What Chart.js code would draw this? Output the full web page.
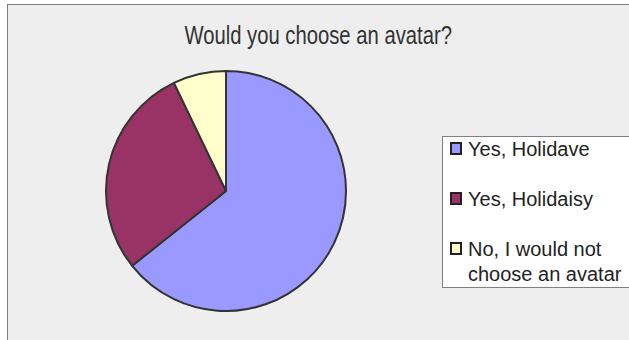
<!DOCTYPE html>
<html>
<head>
<meta charset="utf-8">
<script src="https://cdn.jsdelivr.net/npm/chart.js@4/dist/chart.umd.min.js"></script>
<style>
  html, body { margin: 0; padding: 0; background: #fff; }
  #wrap { position: relative; width: 629px; height: 340px; overflow: hidden; }
  #frame {
    position: absolute; left: 7px; top: 4px; width: 640px; height: 360px;
    background: #eeeeee; border: 1px solid #808080;
  }
  #title {
    position: absolute; left: 0; top: 23px; width: 637px; text-align: center;
    font-family: "Liberation Sans", Arial, sans-serif;
    font-size: 25px; line-height: 25px; color: #333;
  }
  /* condensed look for the heading */
  #title span { display: inline-block; transform: scaleX(0.81); transform-origin: center; }
  #chart { position: absolute; left: 0; top: 0; }
  #legend {
    position: absolute; left: 442px; top: 136px; width: 220px; height: 150px;
    background: #fff; border: 1px solid #808080;
    font-family: "Liberation Sans", Arial, sans-serif; font-size: 20px; color: #222;
  }
  .item { position: relative; padding-left: 25px; line-height: 25px; margin-bottom: 25px; }
  .swatch {
    position: absolute; left: 7px; top: 5px; width: 8px; height: 9px;
    border: 2px solid #222;
  }
</style>
</head>
<body>
<div id="wrap">
  <div id="frame"></div>
  <div id="title"><span>Would you choose an avatar?</span></div>
  <canvas id="chart" width="629" height="340"></canvas>
  <div id="legend"></div>
</div>
<script>
const labels = ['Yes, Holidave', 'Yes, Holidaisy', 'No, I would not\nchoose an avatar'];
const votes = [9, 4, 1];
const colors = ['#9999ff', '#993366', '#ffffcc'];

// legend on the right, one entry per slice
const legend = document.getElementById('legend');
labels.forEach(function(label, i) {
    const item = document.createElement('div');
    item.className = 'item';
    const sw = document.createElement('span');
    sw.className = 'swatch';
    sw.style.background = colors[i];
    item.appendChild(sw);
    label.split('\n').forEach(function(line, j) {
        if (j > 0) item.appendChild(document.createElement('br'));
        item.appendChild(document.createTextNode(line));
    });
    legend.appendChild(item);
});

const ctx = document.getElementById('chart').getContext('2d');
new Chart(ctx, {
    type: 'pie',
    data: {
        labels: labels,
        datasets: [{
            data: votes,
            backgroundColor: colors,
            borderColor: '#333333',
            borderWidth: 2
        }]
    },
    options: {
        responsive: false,
        animation: false,
        layout: { padding: { left: 105, right: 282, top: 70, bottom: 28 } },
        plugins: {
            legend: { display: false },
            tooltip: { enabled: false }
        }
    }
});
</script>
</body>
</html>
